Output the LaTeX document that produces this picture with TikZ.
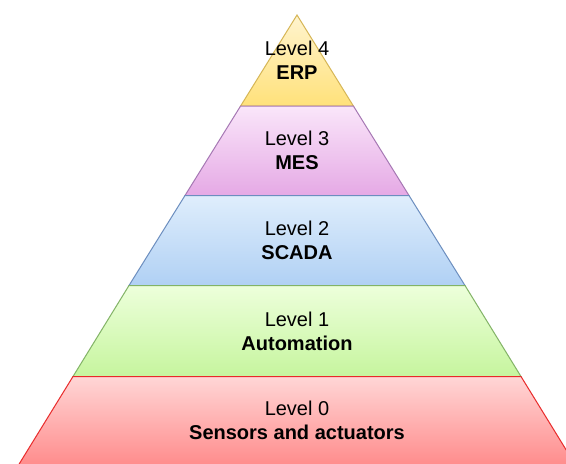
\documentclass[tikz,border=0pt]{standalone}
\usepackage{fontspec}
\setmainfont{Liberation Sans}
\definecolor{yTop}{HTML}{FFF4CF}
\definecolor{yBot}{HTML}{FFE17A}
\definecolor{yLine}{HTML}{D6B656}
\definecolor{pTop}{HTML}{FAE6FA}
\definecolor{pBot}{HTML}{E5A9E5}
\definecolor{pLine}{HTML}{A678B4}
\definecolor{bTop}{HTML}{DFEEFC}
\definecolor{bBot}{HTML}{B0D0F4}
\definecolor{bLine}{HTML}{6C8EBF}
\definecolor{gTop}{HTML}{EDFFDB}
\definecolor{gBot}{HTML}{C6F59E}
\definecolor{gLine}{HTML}{82B366}
\definecolor{rTop}{HTML}{FFD6D6}
\definecolor{rBot}{HTML}{FF8A8A}
\definecolor{rLine}{HTML}{E82A2A}
\tikzset{
  lvl/.style={line width=1pt, line join=miter},
  lbl/.style={align=center, font=\fontsize{20}{24}\selectfont, inner sep=0pt}
}
\begin{document}
\begin{tikzpicture}[x=1pt,y=-1pt]
\useasboundingbox (0,0) rectangle (566,464);
\clip (0,0) rectangle (566,464);
\fill[white] (0,0) rectangle (566,464);
% Level 4
\draw[lvl, draw=yLine, top color=yTop, bottom color=yBot]
  (297,15) -- (353.4,106) -- (240.6,106) -- cycle;
\node[lbl] (l4) at (297,60) {Level 4\\\textbf{ERP}};
% Level 3
\draw[lvl, draw=pLine, top color=pTop, bottom color=pBot]
  (240.6,106) -- (353.4,106) -- (409,195.5) -- (185,195.5) -- cycle;
\node[lbl] (l3) at (297,150) {Level 3\\\textbf{MES}};
% Level 2
\draw[lvl, draw=bLine, top color=bTop, bottom color=bBot]
  (185,195.5) -- (409,195.5) -- (465,285.5) -- (129,285.5) -- cycle;
\node[lbl] (l2) at (297,240) {Level 2\\\textbf{SCADA}};
% Level 1
\draw[lvl, draw=gLine, top color=gTop, bottom color=gBot]
  (129,285.5) -- (465,285.5) -- (521,376.5) -- (73,376.5) -- cycle;
\node[lbl] (l1) at (297,331) {Level 1\\\textbf{Automation}};
% Level 0
\draw[lvl, draw=rLine, top color=rTop, bottom color=rBot]
  (73,376.5) -- (521,376.5) -- (577,467.5) -- (17,467.5) -- cycle;
\node[lbl] (l0) at (297,420) {Level 0\\\textbf{Sensors and actuators}};
\end{tikzpicture}
\end{document}
